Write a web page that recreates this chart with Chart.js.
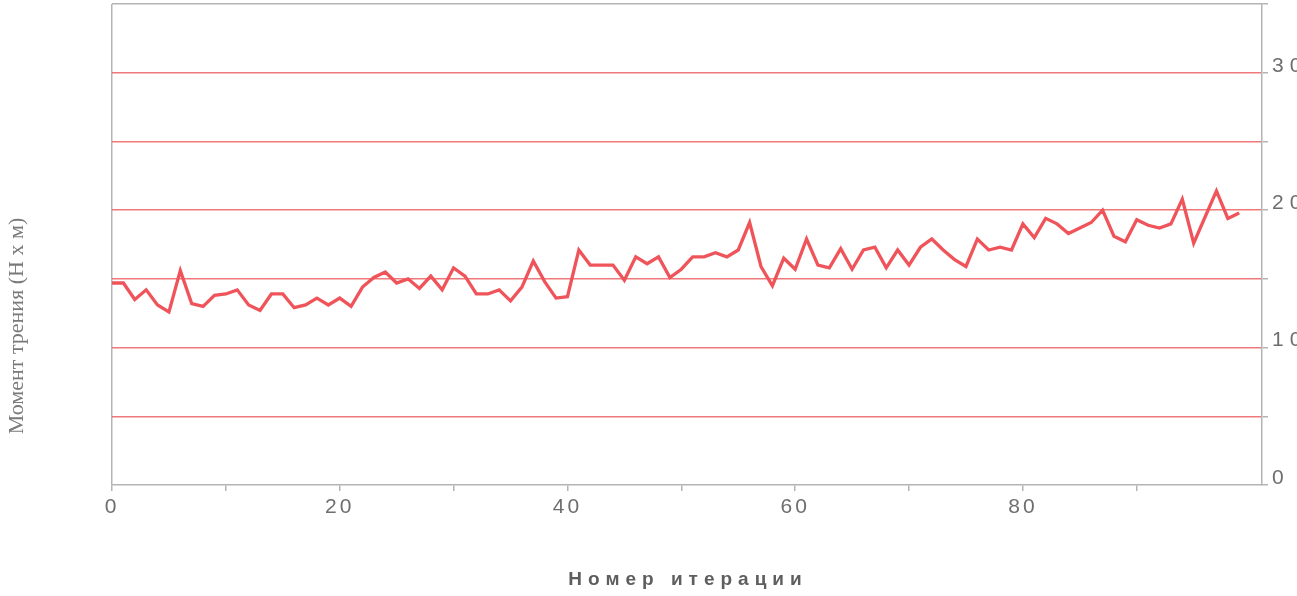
<!DOCTYPE html>
<html>
<head>
<meta charset="utf-8">
<script src="https://cdn.jsdelivr.net/npm/chart.js@4/dist/chart.umd.min.js"></script>
<style>
  html, body { margin: 0; padding: 0; background: #fff; overflow: hidden; }
  #wrap { width: 1320px; height: 596px; }
</style>
</head>
<body>
<div id="wrap"><canvas id="c" width="1320" height="596"></canvas></div>
<script>
// Iteration numbers (x) and friction torque per iteration (y, N·m)
const iterations = [
  0, 1, 2, 3, 4, 5, 6, 7, 8, 9,
  10, 11, 12, 13, 14, 15, 16, 17, 18, 19,
  20, 21, 22, 23, 24, 25, 26, 27, 28, 29,
  30, 31, 32, 33, 34, 35, 36, 37, 38, 39,
  40, 41, 42, 43, 44, 45, 46, 47, 48, 49,
  50, 51, 52, 53, 54, 55, 56, 57, 58, 59,
  60, 61, 62, 63, 64, 65, 66, 67, 68, 69,
  70, 71, 72, 73, 74, 75, 76, 77, 78, 79,
  80, 81, 82, 83, 84, 85, 86, 87, 88, 89,
  90, 91, 92, 93, 94, 95, 96, 97, 98, 99
];
const torque = [
  14.7, 14.7, 13.5, 14.2, 13.1, 12.6, 15.6, 13.2, 13.0, 13.8,
  13.9, 14.2, 13.1, 12.7, 13.9, 13.9, 12.9, 13.1, 13.6, 13.1,
  13.6, 13.0, 14.4, 15.1, 15.5, 14.7, 15.0, 14.3, 15.2, 14.2,
  15.8, 15.2, 13.9, 13.9, 14.2, 13.4, 14.4, 16.3, 14.8, 13.6,
  13.7, 17.1, 16.0, 16.0, 16.0, 14.9, 16.6, 16.1, 16.6, 15.1,
  15.7, 16.6, 16.6, 16.9, 16.6, 17.1, 19.1, 15.9, 14.5, 16.5,
  15.7, 17.9, 16.0, 15.8, 17.2, 15.7, 17.1, 17.3, 15.8, 17.1,
  16.0, 17.3, 17.9, 17.1, 16.4, 15.9, 17.9, 17.1, 17.3, 17.1,
  19.0, 18.0, 19.4, 19.0, 18.3, 18.7, 19.1, 20.0, 18.1, 17.7,
  19.3, 18.9, 18.7, 19.0, 20.8, 17.6, 19.5, 21.4, 19.4, 19.8
];
// Axis ranges, tick steps and labelled tick values
const xRange = [0, 101];
const yRange = [0, 35];
const xLastTick = 90;
const xLabelled = [0, 20, 40, 60, 80];
const yLabelled = [0, 10, 20, 30];

const xTitle = 'Номер итерации';
const yTitle = 'Момент трения (Н х м)';

const GRAY = '#b4b4b4';
const NONE = 'rgba(0,0,0,0)';
const GRID_RED = 'rgba(236, 96, 100, 0.85)';
const LINE_RED = '#f0545b';
const TEXT = '#6e6e6e';

// Letter spacing for tick labels (x labels before the line, y labels after it),
// plus the two hand-placed axis titles
const textPlugin = {
  id: 'axisText',
  beforeDraw(chart) {
    chart.ctx.letterSpacing = '3px';
  },
  afterDatasetsDraw(chart) {
    chart.ctx.letterSpacing = '6px';
  },
  afterDraw(chart) {
    const ctx = chart.ctx;
    ctx.save();
    // x title: bold, widely spaced
    ctx.letterSpacing = '6px';
    ctx.font = 'bold 19px "Liberation Sans", Arial, sans-serif';
    ctx.fillStyle = '#5e5e5e';
    ctx.textAlign = 'center';
    ctx.textBaseline = 'middle';
    ctx.fillText(xTitle, 688, 580);
    // y title: serif, rotated
    ctx.letterSpacing = '0px';
    ctx.font = '22px "Liberation Serif", "Times New Roman", serif';
    ctx.fillStyle = '#7a7a7a';
    ctx.translate(17, 326);
    ctx.rotate(-Math.PI / 2);
    ctx.fillText(yTitle, 0, 0);
    ctx.restore();
    ctx.letterSpacing = '0px';
  }
};

new Chart(document.getElementById('c'), {
  type: 'line',
  data: {
    datasets: [{
      data: iterations.map((it, i) => ({ x: it, y: torque[i] })),
      borderColor: LINE_RED,
      borderWidth: 3.3,
      pointRadius: 0,
      tension: 0,
      fill: false
    }]
  },
  options: {
    responsive: false,
    animation: false,
    devicePixelRatio: 1,
    layout: { padding: { left: 112, top: 4, right: 0, bottom: 0 } },
    plugins: { legend: { display: false }, tooltip: { enabled: false } },
    scales: {
      x: {
        type: 'linear',
        position: 'bottom',
        min: xRange[0],
        max: xRange[1],
        afterFit(scale) {
          scale.height = 111;
          scale.paddingLeft = 0;
          scale.paddingRight = 0;
        },
        grid: {
          color: (c) => (c.tick && c.tick.value === 0 ? GRAY : NONE),
          tickColor: (c) => (c.tick && c.tick.value <= xLastTick ? GRAY : NONE),
          lineWidth: 1.5,
          tickLength: 6,
          drawOnChartArea: true
        },
        border: { color: GRAY, width: 1.5 },
        ticks: {
          stepSize: 10,
          includeBounds: false,
          autoSkip: false,
          maxRotation: 0,
          padding: 4,
          color: TEXT,
          font: { family: '"Liberation Sans", Arial, sans-serif', size: 21 },
          callback: (v) => (xLabelled.includes(v) ? String(v) : '')
        }
      },
      y: {
        type: 'linear',
        position: 'right',
        min: yRange[0],
        max: yRange[1],
        afterFit(scale) {
          scale.width = 58;
          scale.paddingTop = 0;
          scale.paddingBottom = 0;
        },
        grid: {
          color: (c) => {
            const v = c.tick ? c.tick.value : null;
            if (v === yRange[0]) return NONE;
            if (v === yRange[1]) return GRAY;
            return GRID_RED;
          },
          tickColor: GRAY,
          lineWidth: 1.5,
          tickLength: 6
        },
        border: { color: GRAY, width: 1.5 },
        ticks: {
          z: 1,
          stepSize: 5,
          autoSkip: false,
          padding: 4,
          labelOffset: -7,
          color: TEXT,
          font: { family: '"Liberation Sans", Arial, sans-serif', size: 21 },
          callback: (v) => (yLabelled.includes(v) ? String(v) : '')
        }
      }
    }
  },
  plugins: [textPlugin]
});
</script>
</body>
</html>
